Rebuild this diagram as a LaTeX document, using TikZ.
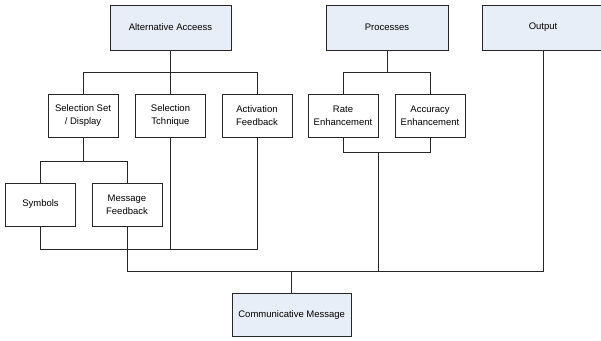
\documentclass[tikz,border=0pt]{standalone}
\usepackage{fontspec}
\setmainfont{Liberation Sans}
\definecolor{boxblue}{RGB}{232,238,248}
\begin{document}
\begin{tikzpicture}[x=1pt,y=-1pt,
  every node/.style={font=\fontsize{9.5}{13}\selectfont, align=center, inner sep=0pt},
  topbox/.style={draw=black!85, fill=boxblue, line width=0.8pt, minimum width=121pt, minimum height=45pt},
  subbox/.style={draw=black!85, fill=white, line width=0.8pt, minimum width=70pt, minimum height=43pt},
  link/.style={draw=black!85, line width=0.8pt}]
\useasboundingbox (0,0) rectangle (601,340);
\begin{scope}
\clip (0,0) rectangle (601,340);
% top row
\node[topbox] (aa) at (170.5,27.5) {Alternative Acceess};
\node[topbox, minimum width=122pt] (proc) at (387,27.5) {Processes};
\node[topbox, minimum width=122pt] (out) at (543,27.5) {Output};
% second row
\node[subbox] (sset) at (83,115.5) {Selection Set\\/ Display};
\node[subbox] (stech) at (170.5,115.5) {Selection\\Tchnique};
\node[subbox] (actf) at (257,115.5) {Activation\\Feedback};
\node[subbox] (rate) at (343,115.5) {Rate\\Enhancement};
\node[subbox] (acc) at (430,115.5) {Accuracy\\Enhancement};
% third row
\node[subbox] (sym) at (40.5,204.5) {Symbols};
\node[subbox] (mfb) at (127,204.5) {Message\\Feedback};
% bottom
\node[topbox, minimum width=119pt, minimum height=43pt] (cm) at (291.7,314.7) {Communicative Message};
% junction levels
\coordinate (ya) at (0,72);
\coordinate (yb) at (0,161);
\coordinate (yc) at (0,249.5);
\coordinate (yd) at (0,271.5);
\coordinate (ye) at (0,152);
\coordinate (pd) at (378,152);
% connectors
\draw[link] (aa.south) -- (aa.south |- ya);
\draw[link] (sset.north) -- (sset.north |- ya) -- (actf.north |- ya) -- (actf.north);
\draw[link] (stech.north) -- (stech.north |- ya);
\draw[link] (proc.south) -- (proc.south |- ya);
\draw[link] (rate.north) -- (rate.north |- ya) -- (acc.north |- ya) -- (acc.north);
\draw[link] (rate.south) -- (rate.south |- ye) -- (acc.south |- ye) -- (acc.south);
\draw[link] (sset.south) -- (sset.south |- yb);
\draw[link] (sym.north) -- (sym.north |- yb) -- (mfb.north |- yb) -- (mfb.north);
\draw[link] (sym.south) -- (sym.south |- yc) -- (actf.south |- yc) -- (actf.south);
\draw[link] (stech.south) -- (stech.south |- yc);
\draw[link] (mfb.south) -- (mfb.south |- yd) -- (out.south |- yd) -- (out.south);
\draw[link] (pd) -- (pd |- yd);
\draw[link] (cm.north) -- (cm.north |- yd);
\end{scope}
\end{tikzpicture}
\end{document}
